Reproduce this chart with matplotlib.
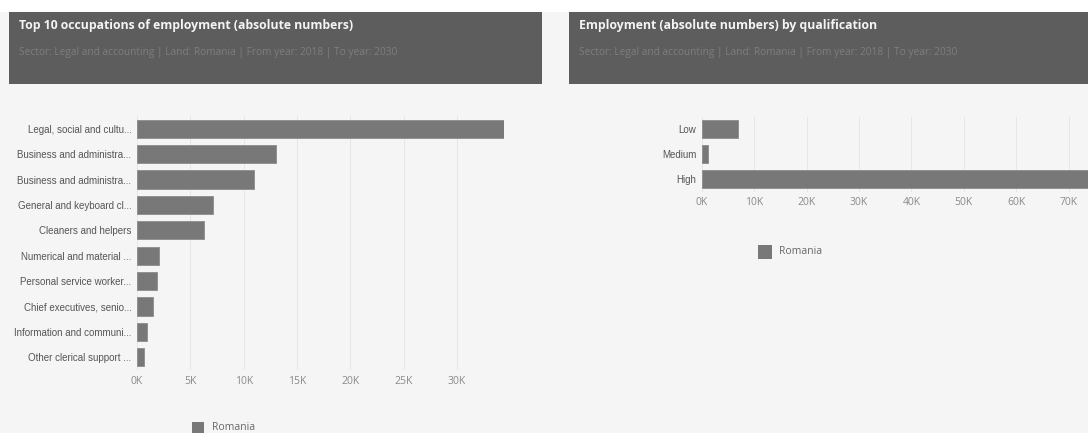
import matplotlib.pyplot as plt
from matplotlib.patches import Rectangle
from matplotlib.ticker import FuncFormatter

W, H = 1088, 433

occupations = [
    "Legal, social and cultu...",
    "Business and administra...",
    "Business and administra...",
    "General and keyboard cl...",
    "Cleaners and helpers",
    "Numerical and material ...",
    "Personal service worker...",
    "Chief executives, senio...",
    "Information and communi...",
    "Other clerical support ...",
]
occupation_values = [34400, 13000, 10950, 7100, 6300, 2100, 1900, 1500, 900, 700]

qualifications = ["Low", "Medium", "High"]
qualification_values = [6900, 1200, 74000]

left_title = "Top 10 occupations of employment (absolute numbers)"
right_title = "Employment (absolute numbers) by qualification"
subtitle = "Sector: Legal and accounting | Land: Romania | From year: 2018 | To year: 2030"
legend_label = "Romania"

BAR = "#787878"
HEADER = "#5d5d5d"
BG = "#f5f5f5"


def px_axes(fig, x0, y0, x1, y1):
    # pixel box (top-left origin) -> figure axes
    return fig.add_axes([x0 / W, 1 - y1 / H, (x1 - x0) / W, (y1 - y0) / H])


def k_fmt(v, pos):
    return "%dK" % round(v / 1000)


fig = plt.figure(figsize=(W / 100, H / 100), dpi=100, facecolor=BG)

# white strip on top and headers
fig.patches.append(Rectangle((0, 1 - 12 / H), 1, 12 / H, transform=fig.transFigure,
                             facecolor="white", edgecolor="none", zorder=0))
for x0, x1 in [(9, 542), (569, 1088)]:
    fig.patches.append(Rectangle((x0 / W, 1 - 84 / H), (x1 - x0) / W, 72 / H,
                                 transform=fig.transFigure, facecolor=HEADER,
                                 edgecolor="none", zorder=1))

fig.text(19 / W, 1 - 26 / H, left_title, family="Open Sans", weight="bold",
         fontsize=8.85, color="#f4f4f4", va="center")
fig.text(19 / W, 1 - 53 / H, subtitle, family="Open Sans", fontsize=7.3,
         color="#7e7e7e", va="center")
fig.text(579 / W, 1 - 26 / H, right_title, family="Open Sans", weight="bold",
         fontsize=8.85, color="#f4f4f4", va="center")
fig.text(579 / W, 1 - 53 / H, subtitle, family="Open Sans", fontsize=7.3,
         color="#7e7e7e", va="center")


def bar_panel(ax, labels, values, xmax, step):
    ax.barh(range(len(labels)), values, height=0.72, color=BAR,
            edgecolor="#8c8c8c", linewidth=0.6, zorder=2)
    ax.set_ylim(len(labels) - 0.5, -0.5)
    ax.set_xlim(0, xmax)
    ax.set_yticks(range(len(labels)))
    ax.set_yticklabels(labels, family="Liberation Sans", fontsize=7, color="#555555")
    ticks = list(range(0, int(xmax) + 1, step))
    ax.set_xticks(ticks)
    ax.xaxis.set_major_formatter(FuncFormatter(k_fmt))
    for t in ax.get_xticklabels():
        t.set_family("Open Sans")
        t.set_fontsize(7.5)
        t.set_color("#8a8a8a")
    ax.tick_params(length=0, pad=4)
    ax.tick_params(axis="x", pad=4)
    ax.grid(axis="x", color="#e4e4e4", linewidth=0.6, zorder=0)
    ax.set_facecolor("none")
    for s in ax.spines.values():
        s.set_visible(False)


ax1 = px_axes(fig, 137, 116, 504, 370)
bar_panel(ax1, occupations, occupation_values, 34400, 5000)

ax2 = px_axes(fig, 702, 116.5, 1088, 191.5)
bar_panel(ax2, qualifications, qualification_values, 73700, 10000)

# legends
for sx, sy, size, tx in [(192, 428, 12, 212), (758, 252, 14, 779)]:
    fig.patches.append(Rectangle((sx / W, 1 - (sy + size / 2) / H), size / W, size / H,
                                 transform=fig.transFigure, facecolor=BAR,
                                 edgecolor="none", zorder=2))
    fig.text(tx / W, 1 - sy / H, legend_label, family="Open Sans", fontsize=7.5,
             color="#666666", va="center")

fig.savefig("out.png", dpi=100, facecolor=BG)
